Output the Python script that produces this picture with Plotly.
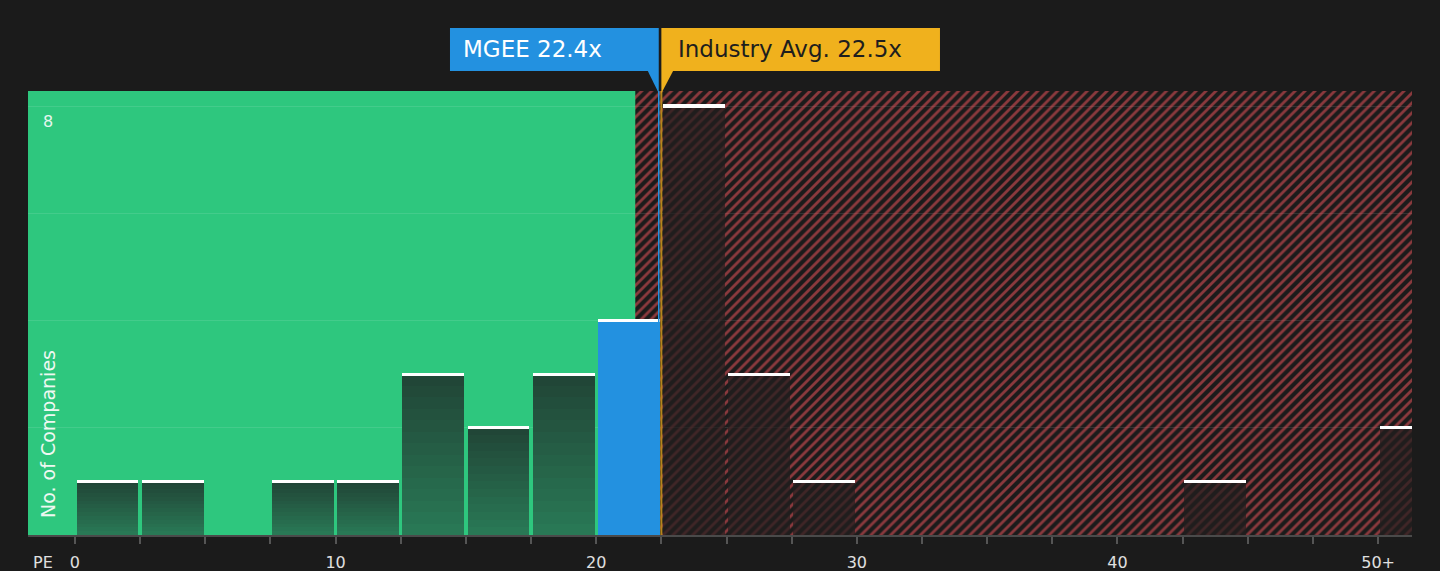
"""PE ratio distribution of MGEE against its industry peers.

Histogram of companies per PE bucket, with the "good value" zone in green and the
"expensive" zone hatched in red. MGEE and the industry average are flagged on top.
"""
import plotly.graph_objects as go

BG_COLOUR = '#1b1b1b'
GREEN_COLOUR = '#2ec77e'
GREEN_BAR_TOP = (33, 68, 54)
GREEN_BAR_BOTTOM = (41, 122, 86)
RED_BAR_COLOUR = 'rgba(34, 30, 30, 0.72)'
HATCH_COLOUR = '#fa5860'
MGEE_COLOUR = '#2391e0'
INDUSTRY_COLOUR = '#f0b11d'
AXIS_COLOUR = '#4a4a4a'
FONT = 'DejaVu Sans'
GRADIENT_STEPS = 14

# histogram buckets (start of each 2.5 wide bin) and the number of companies in each
BIN_STARTS = [0, 2.5, 5, 7.5, 10, 12.5, 15, 17.5, 20, 22.5, 25, 27.5, 30, 32.5, 35,
              37.5, 40, 42.5, 45, 47.5, 50]
COUNTS = [1, 1, 0, 1, 1, 3, 2, 3, 4, 8, 3, 1, 0, 0, 0, 0, 0, 1, 0, 0, 2]
BIN_WIDTH = 2.5

# x axis ticks: every bin edge, labels only every 10
TICK_VALUES = [0, 2.5, 5, 7.5, 10, 12.5, 15, 17.5, 20, 22.5, 25, 27.5, 30, 32.5, 35,
               37.5, 40, 42.5, 45, 47.5, 50]
TICK_LABELS = ['0', '', '', '', '10', '', '', '', '20', '', '', '', '30', '', '', '',
               '40', '', '', '', '50+']

MGEE_PE = 22.4
INDUSTRY_PE = 22.5
GREEN_ZONE_END = 21.5

X_RANGE = [-1.8, 51.3]
Y_RANGE = [0, 8.28]
BAR_WIDTH = BIN_WIDTH - 0.13


def bucket_kind(start: float) -> str:
    """Which group a bucket belongs to: MGEE's own bucket, the green zone or the red zone."""
    if start <= MGEE_PE < start + BIN_WIDTH:
        return 'mgee'
    if start + BIN_WIDTH / 2 < GREEN_ZONE_END:
        return 'green'
    return 'red'


def blend(top: tuple, bottom: tuple, t: float) -> str:
    """Colour at fraction t (0 = bottom, 1 = top) of the green bar gradient."""
    return 'rgb({}, {}, {})'.format(*[round(b + (a - b) * t) for a, b in zip(top, bottom)])


centres = [s + BIN_WIDTH / 2 for s in BIN_STARTS]
kinds = [bucket_kind(s) for s in BIN_STARTS]
filled = [i for i, c in enumerate(COUNTS) if c > 0]
green = [i for i in filled if kinds[i] == 'green']
others = [i for i in filled if kinds[i] != 'green']

traces = [
    # hatched "expensive" zone, drawn as one wide bar so it can carry a pattern
    go.Bar(
        x=[(GREEN_ZONE_END + X_RANGE[1]) / 2],
        y=[Y_RANGE[1]],
        width=[X_RANGE[1] - GREEN_ZONE_END],
        marker={
            "color": 'rgba(0,0,0,0)',
            "line": {"width": 0},
            "pattern": {"shape": '/', "fgcolor": HATCH_COLOUR, "bgcolor": 'rgba(0,0,0,0)',
                        "size": 7, "solidity": 0.4}
        },
        hoverinfo='skip'
    ),
    # MGEE's bucket and the red zone buckets
    go.Bar(
        x=[centres[i] for i in others],
        y=[COUNTS[i] for i in others],
        width=BAR_WIDTH,
        marker={"color": [MGEE_COLOUR if kinds[i] == 'mgee' else RED_BAR_COLOUR for i in others],
                "line": {"width": 0}},
        hovertemplate='PE %{x}<br>%{y} companies<extra></extra>'
    )
]

# green zone buckets get a vertical gradient, built from stacked slices of each bar
for step in range(GRADIENT_STEPS):
    traces.append(go.Bar(
        x=[centres[i] for i in green],
        y=[COUNTS[i] / GRADIENT_STEPS for i in green],
        base=[COUNTS[i] * step / GRADIENT_STEPS for i in green],
        width=BAR_WIDTH,
        marker={"color": blend(GREEN_BAR_TOP, GREEN_BAR_BOTTOM, (step + 0.5) / GRADIENT_STEPS),
                "line": {"width": 0}},
        hoverinfo='skip'
    ))

# white caps on top of every non-empty bar
traces.append(go.Bar(
    x=[centres[i] for i in filled],
    y=[0.06] * len(filled),
    base=[COUNTS[i] - 0.03 for i in filled],
    width=BAR_WIDTH,
    marker={"color": 'white', "line": {"width": 0}},
    hoverinfo='skip'
))

fig = go.Figure(data=traces)

# green zone, the two marker lines and the two flags above the plot (box + pointer)
shapes = [
    dict(type='rect', layer='below', xref='x', yref='paper', x0=X_RANGE[0], x1=GREEN_ZONE_END,
         y0=0, y1=1, fillcolor=GREEN_COLOUR, line={"width": 0}),
    dict(type='line', xref='x', yref='paper', x0=MGEE_PE, x1=MGEE_PE, y0=0, y1=1,
         line={"color": MGEE_COLOUR, "width": 1.5}),
    dict(type='line', xref='x', yref='paper', x0=INDUSTRY_PE, x1=INDUSTRY_PE, y0=0, y1=1,
         line={"color": '#b5861c', "width": 2}),
    dict(type='rect', xref='x', yref='paper', x0=14.39, x1=MGEE_PE, y0=1.045, y1=1.142,
         fillcolor=MGEE_COLOUR, line={"width": 0}),
    dict(type='path', xref='x', yref='paper', fillcolor=MGEE_COLOUR, line={"width": 0},
         path=f'M {MGEE_PE - 0.42},1.045 L {MGEE_PE},1.045 L {MGEE_PE},0.995 Z'),
    dict(type='rect', xref='x', yref='paper', x0=INDUSTRY_PE, x1=33.19, y0=1.045, y1=1.142,
         fillcolor=INDUSTRY_COLOUR, line={"width": 0}),
    dict(type='path', xref='x', yref='paper', fillcolor=INDUSTRY_COLOUR, line={"width": 0},
         path=f'M {INDUSTRY_PE},1.045 L {INDUSTRY_PE + 0.45},1.045 L {INDUSTRY_PE},0.995 Z'),
]

annotations = [
    dict(text=f'MGEE {MGEE_PE}x', xref='x', yref='paper', x=14.39, y=1.0935, xanchor='left',
         yanchor='middle', xshift=11, showarrow=False, font={"size": 23, "color": 'white'}),
    dict(text=f'Industry Avg. {INDUSTRY_PE}x', xref='x', yref='paper', x=INDUSTRY_PE, y=1.0935,
         xanchor='left', yanchor='middle', xshift=15, showarrow=False,
         font={"size": 23, "color": '#1e1e1e'}),
    dict(text='8', xref='paper', yref='y', x=0.0145, y=8, xanchor='center', yanchor='top',
         yshift=-4, showarrow=False, font={"size": 16, "color": '#e6f6ee'}),
    dict(text='No. of Companies', xref='paper', yref='paper', x=0.0145, y=0.034,
         xanchor='center', yanchor='bottom', textangle=-90, showarrow=False,
         font={"size": 19, "color": '#eef8f2'}),
    dict(text='PE', xref='paper', yref='paper', x=0.0105, y=-0.063, xanchor='center',
         yanchor='middle', showarrow=False, font={"size": 16, "color": '#e0e0e0'}),
]

fig.update_layout(
    width=1440,
    height=571,
    barmode='overlay',
    showlegend=False,
    paper_bgcolor=BG_COLOUR,
    plot_bgcolor=BG_COLOUR,
    margin={"l": 28, "r": 28, "t": 91, "b": 36},
    font={"family": FONT, "color": '#e0e0e0'},
    shapes=shapes,
    annotations=annotations,
    bargap=0
)
fig.update_xaxes(range=X_RANGE, tickvals=TICK_VALUES, ticktext=TICK_LABELS, showgrid=False,
                 zeroline=False, showline=True, linecolor=AXIS_COLOUR, linewidth=2,
                 ticks='outside', tickcolor='#555555', ticklen=7, tickwidth=1.5,
                 ticklabelstandoff=5, automargin=False,
                 tickfont={"size": 16, "color": '#e0e0e0'})
fig.update_yaxes(range=Y_RANGE, tickvals=[0, 2, 4, 6, 8], showticklabels=False,
                 showgrid=True, gridcolor='rgba(255,255,255,0.1)', gridwidth=1, zeroline=False,
                 automargin=False)

# drop the browser's default page margin so the chart sits flush in the window
fig.write_html("out.html", config={"displayModeBar": False},
               post_script="document.body.style.margin='0';"
                           "document.body.style.background='#1b1b1b';")
